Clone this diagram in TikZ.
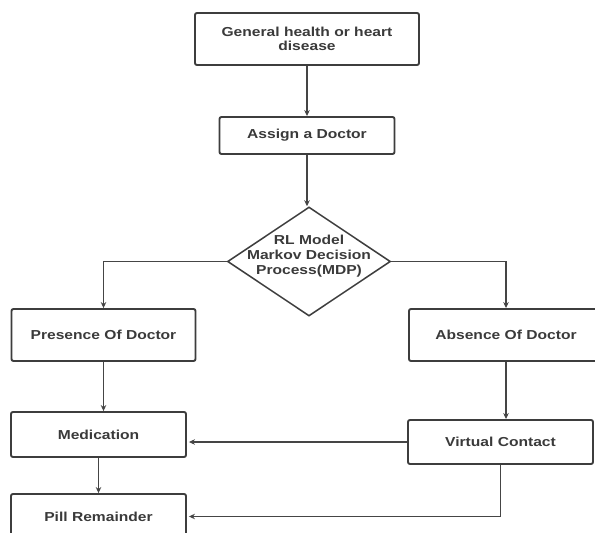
\documentclass[tikz,border=0pt]{standalone}
\usepackage{fontspec}
\newfontfamily\labfont{Liberation Sans}[FakeStretch=1.2]
\usetikzlibrary{shapes.geometric,arrows.meta}
\definecolor{boxline}{HTML}{3D3D3D}
\definecolor{conline}{HTML}{454545}
\definecolor{labtext}{HTML}{3A3A3A}
\tikzset{
  procbox/.style={draw=boxline, line width=1.9pt, rounded corners=2pt, fill=white,
    inner sep=0pt, font=\labfont\bfseries\fontsize{13}{14}\selectfont, text=labtext, align=center},
  decbox/.style={draw=boxline, line width=1.5pt, shape=diamond, inner sep=0pt, fill=white},
  dectext/.style={inner sep=0pt, font=\labfont\bfseries\fontsize{13}{15}\selectfont, text=labtext, align=center},
  conn/.style={draw=conline, line width=1.7pt, -{Stealth[length=6pt,width=5.5pt]}}
}
\begin{document}
\begin{tikzpicture}[x=1pt,y=-1pt]
\useasboundingbox (0,0) rectangle (595,533);
\clip (0,0) rectangle (595,533);
\fill[white] (0,0) rectangle (595,533);
% nodes
\node[procbox, minimum width=224pt, minimum height=52pt] (top) at (307,39) {General health or heart\\disease};
\node[procbox, minimum width=175pt, minimum height=37pt] (assign) at (307,135.5) {Assign a Doctor};
\node[decbox, minimum width=163pt, minimum height=109pt] (mdp) at (309,261.5) {};
\node[dectext] (mdptext) at (309,256) {RL Model\\Markov Decision\\Process(MDP)};
\node[procbox, minimum width=184pt, minimum height=52pt] (presence) at (103.5,335) {Presence Of Doctor};
\node[procbox, minimum width=194pt, minimum height=52pt] (absence) at (506,335) {Absence Of Doctor};
\node[procbox, minimum width=175pt, minimum height=45pt] (medication) at (98.5,434.5) {Medication};
\node[procbox, minimum width=185pt, minimum height=44pt] (virtual) at (500.5,442) {Virtual Contact};
\node[procbox, minimum width=175pt, minimum height=45pt] (pill) at (98.5,516.5) {Pill Remainder};
% connectors
\draw[conn] (top.south) -- (assign.north);
\draw[conn] (assign.south) -- (assign.south |- mdp.north);
\draw[conn] (mdp.west) -| (presence.north);
\draw[conn] (mdp.east) -| (absence.north);
\draw[conn] (presence.south) -- (presence.south |- medication.north);
\draw[conn] (absence.south) -- (absence.south |- virtual.north);
\draw[conn] (virtual.west) -- ([xshift=2pt]virtual.west -| medication.east);
\draw[conn] (medication.south) -- (pill.north);
\draw[conn] (virtual.south) |- ([xshift=2pt]pill.east);
\end{tikzpicture}
\end{document}
